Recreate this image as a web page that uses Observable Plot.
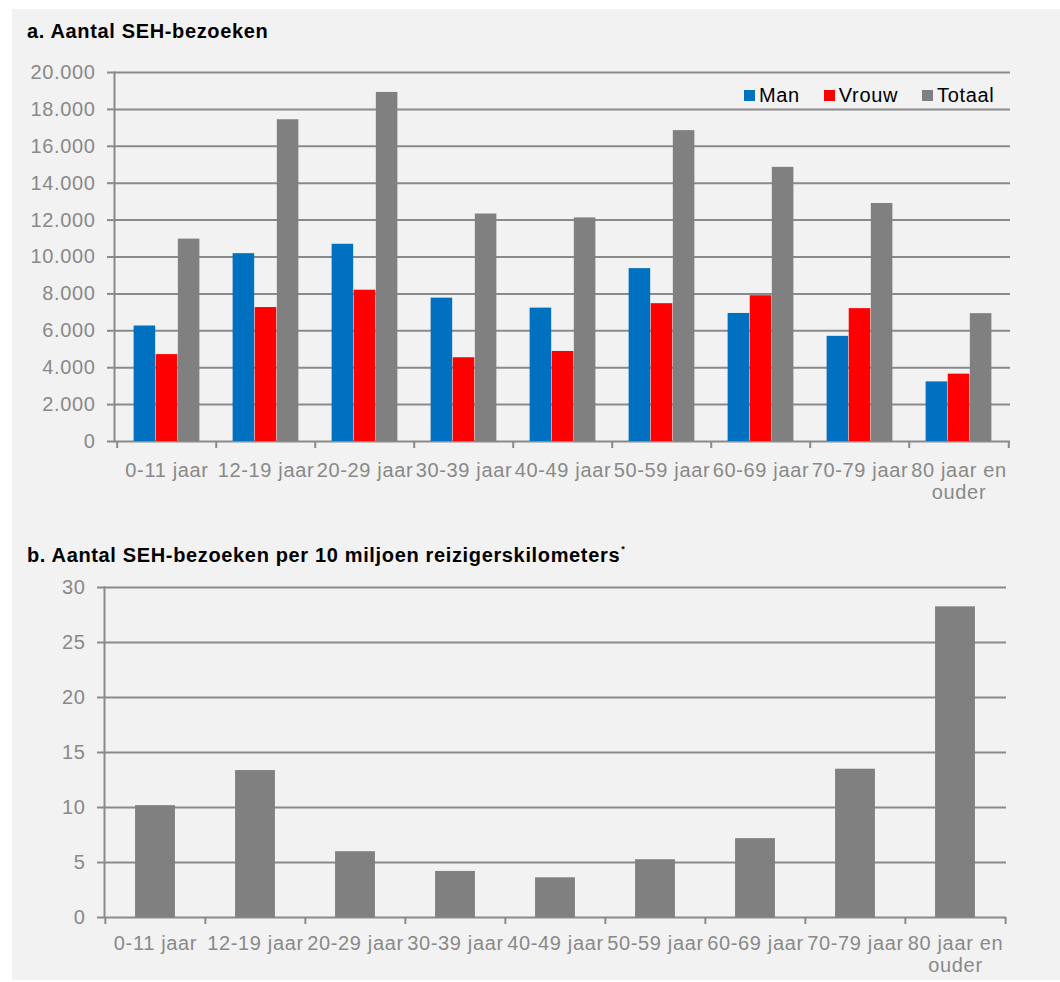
<!DOCTYPE html>
<html>
<head>
<meta charset="utf-8">
<script src="https://cdn.jsdelivr.net/npm/d3@7"></script>
<script src="https://cdn.jsdelivr.net/npm/@observablehq/plot@0.6"></script>
<style>
  body { margin: 0; background: #ffffff; font-family: Arial, "Liberation Sans", sans-serif; }
  #panel { position: absolute; left: 12px; top: 9px; width: 1048px; height: 971px; background: #f2f2f2; }
  .title { position: absolute; left: 27px; font-weight: bold; font-size: 20px; letter-spacing: 0.65px; line-height: 22px; color: #000; white-space: nowrap; }
  .title sup { font-size: 9px; vertical-align: 10px; margin-left: 1px; }
  .chart { position: absolute; left: 0; }
  .chart svg text { letter-spacing: 0.65px; }
  #legend { position: absolute; left: 744px; top: 84px; display: flex; align-items: center; font-size: 20px; letter-spacing: 0.65px; line-height: 22px; color: #000; }
  #legend .item { display: flex; align-items: center; margin-right: 24px; }
  #legend .item:last-child { margin-right: 0; }
  #legend .sw { width: 11px; height: 11px; margin-right: 4px; }
</style>
</head>
<body>
<div id="panel"></div>
<div class="title" id="titleA" style="top:20px">a. Aantal SEH-bezoeken</div>
<div class="chart" id="chartA" style="top:50px"></div>
<div id="legend"></div>
<div class="title" id="titleB" style="top:538px">b. Aantal SEH-bezoeken per 10 miljoen reizigerskilometers<sup>*</sup></div>
<div class="chart" id="chartB" style="top:570px"></div>
<script>
// Age groups along the horizontal axis
const ageGroups = ["0-11 jaar", "12-19 jaar", "20-29 jaar", "30-39 jaar", "40-49 jaar",
                   "50-59 jaar", "60-69 jaar", "70-79 jaar", "80 jaar en ouder"];

// a. Number of emergency department (SEH) visits by sex
const seriesNames = ["Man", "Vrouw", "Totaal"];
const man    = [6260, 10180, 10690, 7770, 7230, 9370, 6940, 5700, 3230];
const vrouw  = [4710, 7260, 8200, 4540, 4880, 7470, 7900, 7200, 3650];
const totaal = [10970, 17440, 18920, 12330, 12120, 16850, 14860, 12900, 6930];
const visitTicks = [0, 2000, 4000, 6000, 8000, 10000, 12000, 14000, 16000, 18000, 20000];

// b. Visits per 10 million traveller kilometres
const perTenMillionKm = [10.17, 13.36, 5.98, 4.19, 3.61, 5.25, 7.17, 13.48, 28.24];
const rateTicks = [0, 5, 10, 15, 20, 25, 30];

const seriesColors = ["#0070c0", "#ff0000", "#808080"];
const lineGray = "#8a8a8a";
const textGray = "#898989";
const fontFamily = 'Arial, "Liberation Sans", sans-serif';

const nl = d3.formatLocale({decimal: ",", thousands: ".", grouping: [3], currency: ["€", ""]});
const fmtThousands = nl.format(",d");
// the last age group label breaks over two lines
const fmtGroup = (d) => d.replace(" en ouder", " en\nouder");

const W = 1060;

function categoryAxes(bw, pad) {
  return [
    // labels centred under each age group
    Plot.axisX({tickSize: 0, tickPadding: pad, tickFormat: fmtGroup, color: textGray,
                fontSize: 20, label: null, lineHeight: 1.1}),
    // tick marks on the boundaries between groups
    Plot.axisX({text: null, tickSize: 7, dx: -bw / 2, stroke: lineGray, strokeWidth: 2, label: null}),
    Plot.axisX([ageGroups[ageGroups.length - 1]], {text: null, tickSize: 7, dx: bw / 2,
                stroke: lineGray, strokeWidth: 2, label: null})
  ];
}

// ---- chart a ----
{
  const mL = 114, mR = 50;
  const bw = (W - mL - mR) / ageGroups.length;
  const barW = bw * 0.222;
  const outer = (bw - 3 * barW) / 2;
  const values = [man, vrouw, totaal];
  const bars = seriesNames.map((name, i) =>
    Plot.barY(ageGroups.map((g, j) => ({group: g, series: name, value: values[i][j]})), {
      x: "group", y: "value", fill: seriesColors[i],
      insetLeft: outer + i * barW, insetRight: outer + (2 - i) * barW
    })
  );
  const chart = Plot.plot({
    width: W, height: 450,
    marginTop: 22, marginBottom: 59, marginLeft: mL, marginRight: mR,
    style: {fontFamily, fontSize: "20px", background: "transparent", overflow: "visible"},
    x: {type: "band", domain: ageGroups, padding: 0},
    y: {domain: [0, 20000]},
    marks: [
      Plot.gridY(visitTicks, {stroke: lineGray, strokeOpacity: 1, strokeWidth: 2}),
      ...bars,
      Plot.frame({anchor: "left", stroke: lineGray, strokeWidth: 2}),
      Plot.axisY(visitTicks, {tickSize: 7, tickPadding: 12, tickFormat: fmtThousands,
                  color: textGray, stroke: lineGray, strokeWidth: 2, fontSize: 20, label: null}),
      ...categoryAxes(bw, 20)
    ]
  });
  document.getElementById("chartA").append(chart);

  const legend = document.getElementById("legend");
  seriesNames.forEach((name, i) => {
    const item = document.createElement("div");
    item.className = "item";
    const sw = document.createElement("div");
    sw.className = "sw";
    sw.style.background = seriesColors[i];
    const label = document.createElement("span");
    label.textContent = name;
    item.append(sw, label);
    legend.append(item);
  });
}

// ---- chart b ----
{
  const mL = 104, mR = 54;
  const bw = (W - mL - mR) / ageGroups.length;
  const rows = ageGroups.map((g, j) => ({group: g, value: perTenMillionKm[j]}));
  const chart = Plot.plot({
    width: W, height: 409,
    marginTop: 17, marginBottom: 62, marginLeft: mL, marginRight: mR,
    style: {fontFamily, fontSize: "20px", background: "transparent", overflow: "visible"},
    x: {type: "band", domain: ageGroups, padding: 0},
    y: {domain: [0, 30]},
    marks: [
      Plot.gridY(rateTicks, {stroke: lineGray, strokeOpacity: 1, strokeWidth: 2}),
      Plot.barY(rows, {x: "group", y: "value", fill: seriesColors[2],
                       insetLeft: bw * 0.3, insetRight: bw * 0.3}),
      Plot.frame({anchor: "left", stroke: lineGray, strokeWidth: 2}),
      Plot.axisY(rateTicks, {tickSize: 7, tickPadding: 12, color: textGray, stroke: lineGray,
                  strokeWidth: 2, fontSize: 20, label: null}),
      ...categoryAxes(bw, 17)
    ]
  });
  document.getElementById("chartB").append(chart);
}
</script>
</body>
</html>
